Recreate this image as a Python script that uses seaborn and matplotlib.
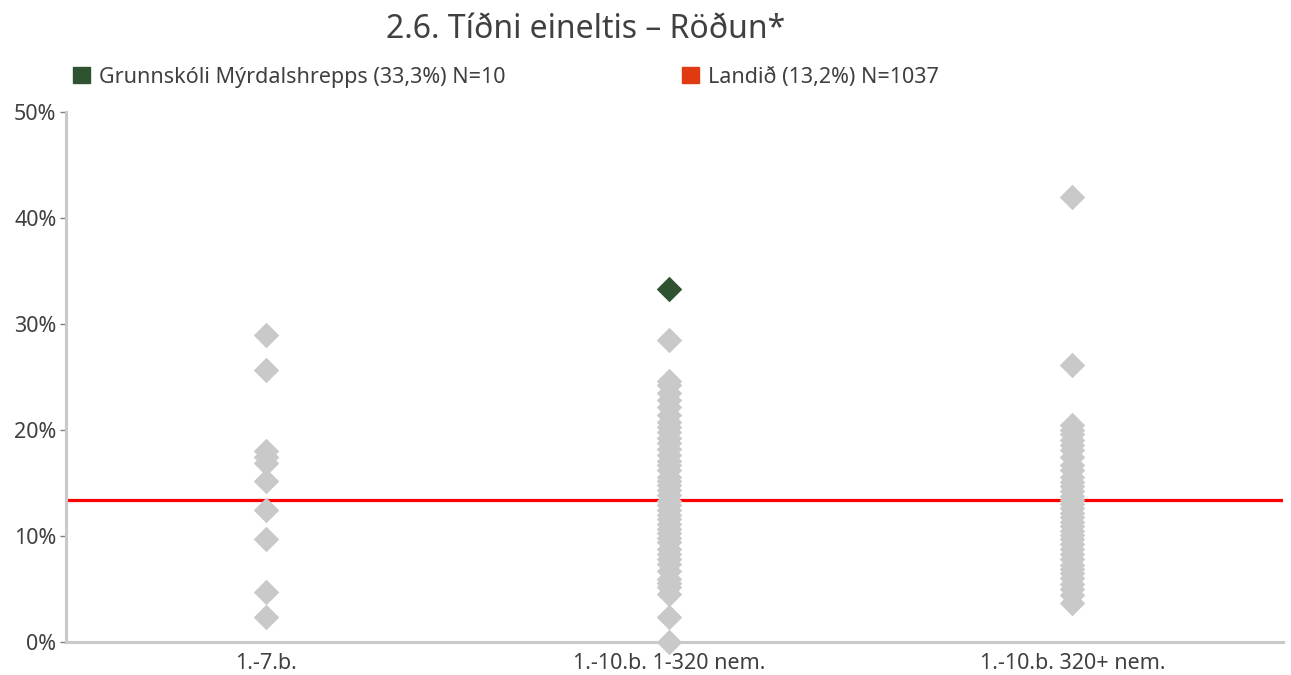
"""
Tíðni eineltis - röðun skóla eftir stærðarflokki.
Gray diamonds are all schools, the green one is the highlighted school,
the red line is the national value.
"""
import matplotlib
matplotlib.use("Agg")
import matplotlib.pyplot as plt
import matplotlib.patches as mpatches
from matplotlib.ticker import FuncFormatter
import pandas as pd
import seaborn as sns

CATEGORIES = ["1.-7.b.", "1.-10.b. 1-320 nem.", "1.-10.b. 320+ nem."]

# share of students (%) per school
SMALL_SCHOOLS = [29.0, 25.7, 18.0, 17.5, 16.9, 15.2, 12.5, 9.7, 4.7, 2.4]
MID_SCHOOLS = [28.5, 24.6, 24.2, 23.5, 22.8, 22.2, 21.4, 20.8, 20.3, 19.8,
               19.2, 18.8, 18.2, 17.6, 17.1, 16.7, 16.2, 15.6, 15.2, 14.8,
               14.3, 13.9, 13.3, 12.9, 12.5, 12.0, 11.6, 11.1, 10.7, 10.3,
               9.8, 9.4, 8.8, 8.3, 7.8, 7.4, 6.7, 5.9, 5.6, 5.2, 4.5, 2.4, 0.0]
LARGE_SCHOOLS = [42.0, 26.1, 20.5, 20.0, 19.6, 19.1, 18.6, 18.1, 17.5, 16.7,
                 16.2, 15.6, 15.1, 14.7, 14.2, 13.8, 13.4, 13.0, 12.6, 12.2,
                 11.8, 11.3, 10.9, 10.5, 10.1, 9.7, 9.2, 8.8, 8.3, 7.8, 7.3,
                 6.9, 6.5, 6.0, 5.5, 5.0, 4.4, 3.7]

SCHOOL_NAME = "Grunnskóli Mýrdalshrepps (33,3%) N=10"
SCHOOL_CATEGORY = "1.-10.b. 1-320 nem."
SCHOOL_VALUE = 33.3

NATIONAL_NAME = "Landið (13,2%) N=1037"
NATIONAL_LINE = 13.4

TITLE = "2.6. Tíðni eineltis – Röðun*"

GRAY = "#c9c9c9"
GREEN = "#2f5230"
RED = "#ff0000"
LEGEND_RED = "#e03a12"
TEXT = "#404040"

sns.set_theme(style="white")
plt.rcParams["font.family"] = ["Noto Sans", "DejaVu Sans"]

rows = []
for cat, vals in zip(CATEGORIES, [SMALL_SCHOOLS, MID_SCHOOLS, LARGE_SCHOOLS]):
    for v in vals:
        rows.append({"flokkur": cat, "hlutfall": v})
df = pd.DataFrame(rows)
school = pd.DataFrame({"flokkur": [SCHOOL_CATEGORY], "hlutfall": [SCHOOL_VALUE]})

fig = plt.figure(figsize=(12.91, 6.75), dpi=100)
ax = fig.add_axes([66 / 1291, 33 / 675, (1283 - 66) / 1291, (642 - 112) / 675])

ax.axhline(NATIONAL_LINE, color=RED, lw=2.3, zorder=1)

sns.stripplot(data=df, x="flokkur", y="hlutfall", order=CATEGORIES,
              jitter=False, marker="D", size=13, color=GRAY,
              linewidth=0, ax=ax, zorder=2)
sns.stripplot(data=school, x="flokkur", y="hlutfall", order=CATEGORIES,
              jitter=False, marker="D", size=13, color=GREEN,
              linewidth=0, ax=ax, zorder=3)

ax.set_ylim(0, 50)
ax.set_xlim(-0.495, 2.522)
ax.set_yticks([0, 10, 20, 30, 40, 50])
ax.yaxis.set_major_formatter(FuncFormatter(lambda v, _: f"{v:.0f}%"))
ax.set_xlabel("")
ax.set_ylabel("")
ax.tick_params(axis="y", left=True, length=4, width=1, color="#7f7f7f",
               labelsize=15.5, labelcolor=TEXT, pad=3)
ax.tick_params(axis="x", bottom=False, labelsize=15.5, labelcolor=TEXT, pad=2)

for side in ["top", "right"]:
    ax.spines[side].set_visible(False)
for side in ["left", "bottom"]:
    ax.spines[side].set_color(GRAY)
    ax.spines[side].set_linewidth(2.2)
for coll in ax.collections:
    coll.set_clip_on(False)

fig.text(586 / 1291, 1 - 30 / 675, TITLE, ha="center", va="center",
         fontsize=23, color=TEXT)

legend_kw = dict(loc="center left", frameon=False, fontsize=15.5,
                 labelcolor=TEXT, borderpad=0, borderaxespad=0,
                 handlelength=0.8, handleheight=0.8, handletextpad=0.4)
fig.legend(handles=[mpatches.Patch(color=GREEN, label=SCHOOL_NAME)],
           bbox_to_anchor=(73 / 1291, 1 - 77 / 675), **legend_kw)
fig.legend(handles=[mpatches.Patch(color=LEGEND_RED, label=NATIONAL_NAME)],
           bbox_to_anchor=(682 / 1291, 1 - 77 / 675), **legend_kw)

fig.savefig("out.png", dpi=100)
